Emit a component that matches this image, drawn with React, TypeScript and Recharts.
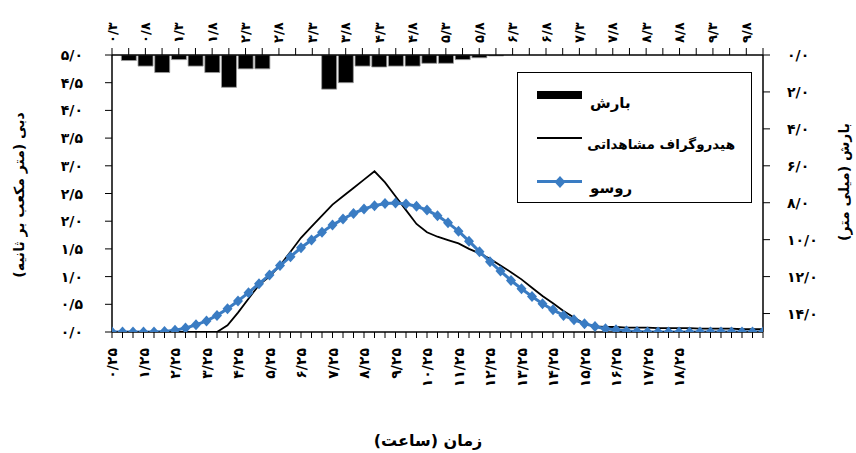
import React from 'react';
import { ComposedChart, Bar, Line, XAxis, YAxis, Legend } from 'recharts';

// ---------- data ----------
// top axis (rainfall), time labels every second category
const rainLabels = ['۰/۳', '۰/۸', '۱/۳', '۱/۸', '۲/۳', '۲/۸', '۳/۳', '۳/۸', '۴/۳', '۴/۸', '۵/۳', '۵/۸', '۶/۳', '۶/۸', '۷/۳', '۷/۸', '۸/۳', '۸/۸', '۹/۳', '۹/۸'];
// rainfall depth (mm) per top category
const rainfall = [0, 0.3, 0.6, 0.95, 0.25, 0.6, 0.95, 1.75, 0.75, 0.75, 0, 0, 0, 1.85, 1.5, 0.6, 0.65, 0.6, 0.6, 0.45, 0.45, 0.25, 0.15, 0.05, 0, 0, 0, 0, 0, 0, 0, 0, 0, 0, 0, 0, 0, 0, 0, 0];

// bottom axis (time, hours), labels every third category
const hourLabels = ['۰/۲۵', '۱/۲۵', '۲/۲۵', '۳/۲۵', '۴/۲۵', '۵/۲۵', '۶/۲۵', '۷/۲۵', '۸/۲۵', '۹/۲۵', '۱۰/۲۵', '۱۱/۲۵', '۱۲/۲۵', '۱۳/۲۵', '۱۴/۲۵', '۱۵/۲۵', '۱۶/۲۵', '۱۷/۲۵', '۱۸/۲۵'];
// observed hydrograph (m3/s)
const observedFlow = [0, 0, 0, 0, 0, 0, 0, 0, 0, 0, 0, 0.12, 0.35, 0.6, 0.85, 1.0, 1.2, 1.45, 1.7, 1.9, 2.1, 2.3, 2.45, 2.6, 2.75, 2.9, 2.7, 2.45, 2.2, 1.95, 1.8, 1.72, 1.66, 1.6, 1.5, 1.42, 1.32, 1.2, 1.08, 0.95, 0.8, 0.65, 0.52, 0.38, 0.26, 0.15, 0.1, 0.09, 0.09, 0.08, 0.08, 0.08, 0.07, 0.07, 0.07, 0.07, 0.06, 0.06, 0.06, 0.06, 0.05, 0.05, 0.05];
// Rousseau model (m3/s)
const rousseauFlow = [0, 0, 0, 0, 0, 0.01, 0.03, 0.07, 0.13, 0.2, 0.3, 0.42, 0.56, 0.71, 0.87, 1.03, 1.2, 1.36, 1.52, 1.66, 1.8, 1.93, 2.04, 2.14, 2.22, 2.28, 2.32, 2.33, 2.31, 2.27, 2.2, 2.1, 1.97, 1.82, 1.64, 1.45, 1.27, 1.1, 0.93, 0.78, 0.64, 0.51, 0.4, 0.3, 0.22, 0.15, 0.1, 0.06, 0.04, 0.02, 0.01, 0, 0, 0, 0, 0, 0, 0, 0, 0, 0, 0, 0];

const flowTicks = ['۰/۰', '۰/۵', '۱/۰', '۱/۵', '۲/۰', '۲/۵', '۳/۰', '۳/۵', '۴/۰', '۴/۵', '۵/۰'];
const rainTickLabels = ['۰/۰', '۲/۰', '۴/۰', '۶/۰', '۸/۰', '۱۰/۰', '۱۲/۰', '۱۴/۰'];

const seriesNames = { rain: 'بارش', observed: 'هیدروگراف مشاهداتی', rousseau: 'روسو' };
const titles = {
  left: 'دبی (متر مکعب بر ثانیه)',
  right: 'بارش (میلی متر)',
  bottom: 'زمان (ساعت)',
};

// ---------- derived tables ----------
const rainRows = rainfall.map((v, k) => ({ k, rain: v }));
const rainTicks = rainfall.map((_, k) => k);
const flowRows = observedFlow.map((v, i) => ({ i, observed: v, rousseau: rousseauFlow[i] }));
const flowTickIdx = observedFlow.map((_, i) => i);

const W = 856;
const H = 453;
const BLUE = '#3a7cc3';
const FONT = '"DejaVu Sans", sans-serif';
const RLM = '\u200F';

const TopTick = (props: any) => {
  const { x, y, payload } = props;
  const k = payload.value;
  const label = k % 2 === 0 ? rainLabels[k / 2] : '';
  if (!label) return null;
  return (
    <text transform={`translate(${x},${y}) rotate(-90)`} textAnchor="start" dominantBaseline="central" fontFamily={FONT} fontWeight="bold" fontSize={13} fill="#000">
      {label}
    </text>
  );
};

const BottomTick = (props: any) => {
  const { x, y, payload } = props;
  const i = payload.value;
  const label = i % 3 === 0 ? hourLabels[i / 3] : '';
  if (!label) return null;
  return (
    <text transform={`translate(${x},${y}) rotate(-90)`} textAnchor="end" dominantBaseline="central" fontFamily={FONT} fontWeight="bold" fontSize={14} letterSpacing={1} fill="#000">
      {label}
    </text>
  );
};

const LeftTick = (props: any) => {
  const { x, y, index } = props;
  return (
    <text x={x} y={y} textAnchor="end" dominantBaseline="central" fontFamily={FONT} fontWeight="bold" fontSize={14} fill="#000">
      {flowTicks[index]}
    </text>
  );
};

const RightTick = (props: any) => {
  const { x, y, index } = props;
  return (
    <text x={x} y={y} textAnchor="start" dominantBaseline="central" fontFamily={FONT} fontWeight="bold" fontSize={14} fill="#000">
      {rainTickLabels[index]}
    </text>
  );
};

const Diamond = (props: any) => {
  const { cx, cy } = props;
  if (cx == null || cy == null) return null;
  return <polygon points={`${cx},${cy - 5.5} ${cx + 5},${cy} ${cx},${cy + 5.5} ${cx - 5},${cy}`} fill={BLUE} />;
};

const LegendBox = () => (
  <div style={{ position: 'relative', width: 235, height: 131, border: '1px solid #000', boxSizing: 'border-box', background: '#fff', fontFamily: FONT, fontWeight: 'bold', fontSize: 15, color: '#000' }}>
    <div style={{ position: 'absolute', left: 19, top: 18, width: 45, height: 8, background: '#000' }} />
    <span style={{ position: 'absolute', left: 72, top: 20, lineHeight: '20px', whiteSpace: 'nowrap' }}>{seriesNames.rain}</span>
    <div style={{ position: 'absolute', left: 19, top: 64, width: 45, height: 2, background: '#000' }} />
    <span style={{ position: 'absolute', right: 16, top: 61, lineHeight: '20px', whiteSpace: 'nowrap', fontSize: 13.5 }}>{seriesNames.observed}</span>
    <div style={{ position: 'absolute', left: 19, top: 107, width: 45, height: 3, background: BLUE }} />
    <svg style={{ position: 'absolute', left: 35, top: 102 }} width={14} height={14}>
      <polygon points="7,1 12.5,7 7,13 1.5,7" fill={BLUE} />
    </svg>
    <span style={{ position: 'absolute', left: 72, top: 105, lineHeight: '20px', whiteSpace: 'nowrap' }}>{seriesNames.rousseau}</span>
  </div>
);

export default function App() {
  return (
    <div style={{ position: 'absolute', left: 0, top: 0, width: W, height: H, background: '#fff' }}>
      {/* rainfall bars: top axis + right (reversed) axis */}
      <div style={{ position: 'absolute', left: 0, top: 0 }}>
        <ComposedChart width={W} height={H} data={rainRows} margin={{ top: 25, right: 33, bottom: 121, left: 112 }}>
          <XAxis
            type="number"
            dataKey="k"
            orientation="top"
            domain={[0, 39]}
            ticks={rainTicks}
            interval={0}
            height={30}
            tickSize={7}
            tickMargin={5}
            tick={<TopTick />}
            axisLine={{ stroke: '#000', strokeWidth: 1.5 }}
            tickLine={{ stroke: '#000', strokeWidth: 1 }}
            allowDataOverflow
          />
          <YAxis
            orientation="right"
            reversed
            domain={[0, 15]}
            ticks={[0, 2, 4, 6, 8, 10, 12, 14]}
            interval={0}
            width={60}
            tickSize={7}
            tickMargin={17}
            tick={<RightTick />}
            axisLine={{ stroke: '#000', strokeWidth: 1.5 }}
            tickLine={{ stroke: '#000', strokeWidth: 1 }}
            allowDataOverflow
          />
          <Bar dataKey="rain" name={seriesNames.rain} barSize={15} fill="#000" stroke="#9a9a9a" strokeWidth={0.8} isAnimationActive={false} />
        </ComposedChart>
      </div>
      {/* flows: bottom axis + left axis */}
      <div style={{ position: 'absolute', left: 0, top: 0 }}>
        <ComposedChart width={W} height={H} data={flowRows} margin={{ top: 55, right: 93, bottom: 91, left: 52 }}>
          <XAxis
            type="number"
            dataKey="i"
            domain={[0, 62]}
            ticks={flowTickIdx}
            interval={0}
            height={30}
            tickSize={6}
            tickMargin={10}
            tick={<BottomTick />}
            axisLine={{ stroke: '#000', strokeWidth: 1.5 }}
            tickLine={{ stroke: '#000', strokeWidth: 1 }}
            allowDataOverflow
          />
          <YAxis
            domain={[0, 5]}
            ticks={[0, 0.5, 1, 1.5, 2, 2.5, 3, 3.5, 4, 4.5, 5]}
            interval={0}
            width={60}
            tickSize={7}
            tickMargin={22}
            tick={<LeftTick />}
            axisLine={{ stroke: '#000', strokeWidth: 1.5 }}
            tickLine={{ stroke: '#000', strokeWidth: 1 }}
            allowDataOverflow
          />
          <Line type="linear" dataKey="observed" name={seriesNames.observed} stroke="#000" strokeWidth={1.8} dot={false} isAnimationActive={false} />
          <Line type="linear" dataKey="rousseau" name={seriesNames.rousseau} stroke={BLUE} strokeWidth={3} dot={<Diamond />} activeDot={false} isAnimationActive={false} />
          <Legend layout="vertical" verticalAlign="middle" align="center" content={<LegendBox />} wrapperStyle={{ left: 517, top: 72, width: 235, height: 131 }} />
          <text transform="translate(19,195) rotate(-90)" textAnchor="middle" dominantBaseline="central" fontFamily={FONT} fontWeight="bold" fontSize={14} fill="#000">
            {RLM + titles.left + RLM}
          </text>
          <text transform="translate(844,182) rotate(-90)" textAnchor="middle" dominantBaseline="central" fontFamily={FONT} fontWeight="bold" fontSize={14} fill="#000">
            {RLM + titles.right + RLM}
          </text>
          <text x={428} y={440} textAnchor="middle" dominantBaseline="central" fontFamily={FONT} fontWeight="bold" fontSize={16} fill="#000">
            {RLM + titles.bottom + RLM}
          </text>
        </ComposedChart>
      </div>
    </div>
  );
}
